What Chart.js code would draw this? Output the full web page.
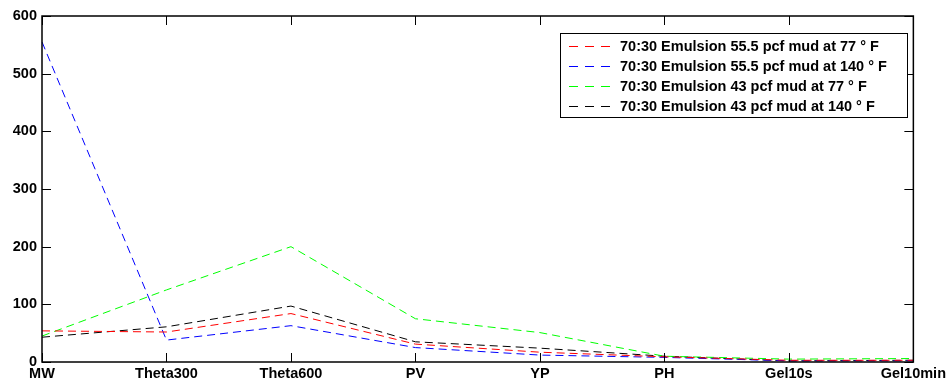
<!DOCTYPE html>
<html>
<head>
<meta charset="utf-8">
<script src="https://cdn.jsdelivr.net/npm/chart.js@4"></script>
<style>
  html, body { margin: 0; padding: 0; background: #fff; }
  #wrap { width: 949px; height: 383px; }
</style>
</head>
<body>
<div id="wrap"><canvas id="myChart" width="949" height="383"></canvas></div>
<script>
// data
const categories = ['MW', 'Theta300', 'Theta600', 'PV', 'YP', 'PH', 'Gel10s', 'Gel10min'];
const yTicks = [0, 100, 200, 300, 400, 500, 600];

const mud555at77 = [54, 52, 84, 31, 17, 9, 3, 3];
const mud555at140 = [555, 38, 63, 25, 12, 8, 2, 2];
const mud43at77 = [45, 125, 200, 75, 51, 10, 5, 6];
const mud43at140 = [43, 61, 97, 35, 24, 10, 2, 3];

const labels = [
    '70:30 Emulsion 55.5 pcf mud at 77 ° F',
    '70:30 Emulsion 55.5 pcf mud at 140 ° F',
    '70:30 Emulsion 43 pcf mud at 77 ° F',
    '70:30 Emulsion 43 pcf mud at 140 ° F'
];

const FONT = '"Liberation Sans", Arial, sans-serif';

function series(label, data, color) {
    return {
        label: label,
        data: data,
        borderColor: color,
        backgroundColor: color,
        borderWidth: 1,
        borderDash: [8, 5],
        pointRadius: 0,
        fill: false,
        tension: 0
    };
}

// MATLAB-like frame, inward ticks and boxed legend
const matlabBox = {
    id: 'matlabBox',
    afterDraw(chart) {
        const c = chart.ctx;
        const a = chart.chartArea;
        const xs = chart.scales.x;
        const ys = chart.scales.y;
        const tl = 9;
        c.save();
        c.strokeStyle = '#000';
        c.lineWidth = 1;
        c.setLineDash([]);
        c.beginPath();
        categories.forEach((cat, i) => {
            const x = Math.round(xs.getPixelForValue(i)) + 0.5;
            c.moveTo(x, a.bottom); c.lineTo(x, a.bottom - tl);
            c.moveTo(x, a.top); c.lineTo(x, a.top + tl);
        });
        yTicks.forEach(v => {
            const y = Math.round(ys.getPixelForValue(v)) + 0.5;
            c.moveTo(a.left, y); c.lineTo(a.left + tl, y);
            c.moveTo(a.right, y); c.lineTo(a.right - tl, y);
        });
        c.stroke();
        c.lineWidth = 1.5;
        c.strokeRect(a.left, a.top, a.right - a.left, a.bottom - a.top);

        // legend
        const bx = 560, by = 33, bw = 347, bh = 84;
        c.fillStyle = '#fff';
        c.fillRect(bx, by, bw, bh);
        c.lineWidth = 1;
        c.strokeRect(bx + 0.5, by + 0.5, bw, bh);
        c.font = 'bold 14.5px ' + FONT;
        c.textBaseline = 'middle';
        chart.data.datasets.forEach((ds, i) => {
            const y = by + 13 + i * 20;
            c.strokeStyle = ds.borderColor;
            c.setLineDash([9, 7]);
            c.beginPath();
            c.moveTo(569, y + 0.5);
            c.lineTo(615, y + 0.5);
            c.stroke();
            c.setLineDash([]);
            c.fillStyle = '#000';
            c.fillText(ds.label, 620, y + 1);
        });
        c.restore();
    }
};

const ctx = document.getElementById('myChart');

new Chart(ctx, {
    type: 'line',
    data: {
        labels: categories,
        datasets: [
            series(labels[0], mud555at77, '#ff0000'),
            series(labels[1], mud555at140, '#0000ff'),
            series(labels[2], mud43at77, '#00ff00'),
            series(labels[3], mud43at140, '#000000')
        ]
    },
    options: {
        responsive: false,
        animation: false,
        layout: {
            padding: { top: 16, right: 35, left: 0, bottom: 0 }
        },
        plugins: {
            legend: { display: false },
            tooltip: { enabled: false }
        },
        scales: {
            x: {
                type: 'category',
                offset: false,
                grid: { display: false, drawTicks: false },
                border: { display: false },
                ticks: {
                    color: '#000',
                    font: { family: FONT, size: 14.5, weight: 'bold' },
                    padding: 3,
                    maxRotation: 0,
                    autoSkip: false
                },
                afterFit(scale) { scale.height = 21; }
            },
            y: {
                min: 0,
                max: 600,
                grid: { display: false, drawTicks: false },
                border: { display: false },
                ticks: {
                    stepSize: 100,
                    color: '#000',
                    font: { family: FONT, size: 14.5, weight: 'bold' },
                    padding: 5
                },
                afterFit(scale) { scale.width = 42; }
            }
        }
    },
    plugins: [matlabBox]
});
</script>
</body>
</html>
